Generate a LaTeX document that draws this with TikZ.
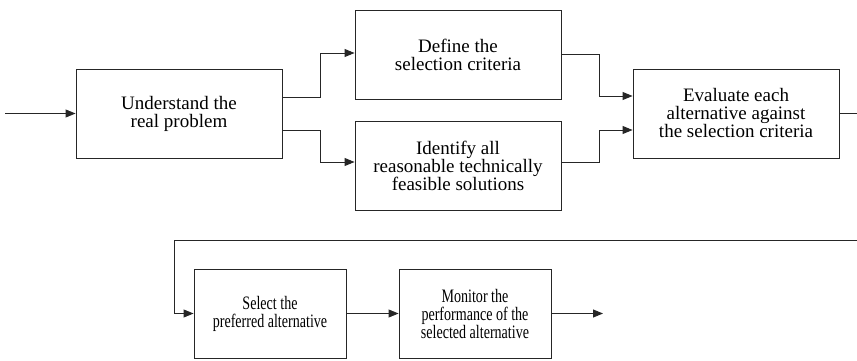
\documentclass[tikz,border=0pt]{standalone}
\usepackage{fontspec}
\setmainfont{Liberation Serif}
\newfontfamily\narrowfont[FakeStretch=0.74]{Liberation Serif}
\usetikzlibrary{arrows.meta}
\begin{document}
\begin{tikzpicture}[x=1pt,y=-1pt,
  box/.style={draw=black!85, line width=0.9pt, minimum width=206pt, minimum height=89pt, align=center, font=\fontsize{19}{18}\selectfont, inner sep=0pt},
  lowbox/.style={box, minimum width=152pt, font=\narrowfont\fontsize{19}{18}\selectfont},
  conn/.style={draw=black!85, line width=0.9pt, -{Triangle[length=10pt,width=8pt]}},
  plain/.style={draw=black!85, line width=0.9pt}]
\useasboundingbox (0,0) rectangle (857,361);
\node[box] (A) at (179,113.5) {Understand the\\real problem};
\node[box] (B) at (458,54.5) {Define the\\selection criteria};
\node[box] (C) at (458,166) {Identify all\\reasonable technically\\feasible solutions};
\node[box] (D) at (736,113.5) {Evaluate each\\alternative against\\the selection criteria};
\node[lowbox] (E) at (270,313.5) {Select the\\preferred alternative};
\node[lowbox] (F) at (475,313.5) {Monitor the\\performance of the\\selected alternative};
\coordinate (in) at (5,113.5);
\coordinate (r1) at (857,113.5);
\coordinate (r2) at (857,240);
\coordinate (out) at (603,313.5);
\draw[conn] (in) -- (A.west);
\draw[conn] ([yshift=16.5pt]A.east) -- ++(38,0) |- ([yshift=1.5pt]B.west);
\draw[conn] ([yshift=-16.5pt]A.east) -- ++(38,0) |- ([yshift=4pt]C.west);
\draw[conn] (B.east) -- ++(38,0) |- ([yshift=17.5pt]D.west);
\draw[conn] ([yshift=4pt]C.east) -- ++(38,0) |- ([yshift=-16.5pt]D.west);
\draw[plain] (D.east) -- (r1);
\draw[conn] (r2) -- (174,240) |- (E.west);
\draw[conn] (E.east) -- (F.west);
\draw[conn] (F.east) -- (out);
\end{tikzpicture}
\end{document}
